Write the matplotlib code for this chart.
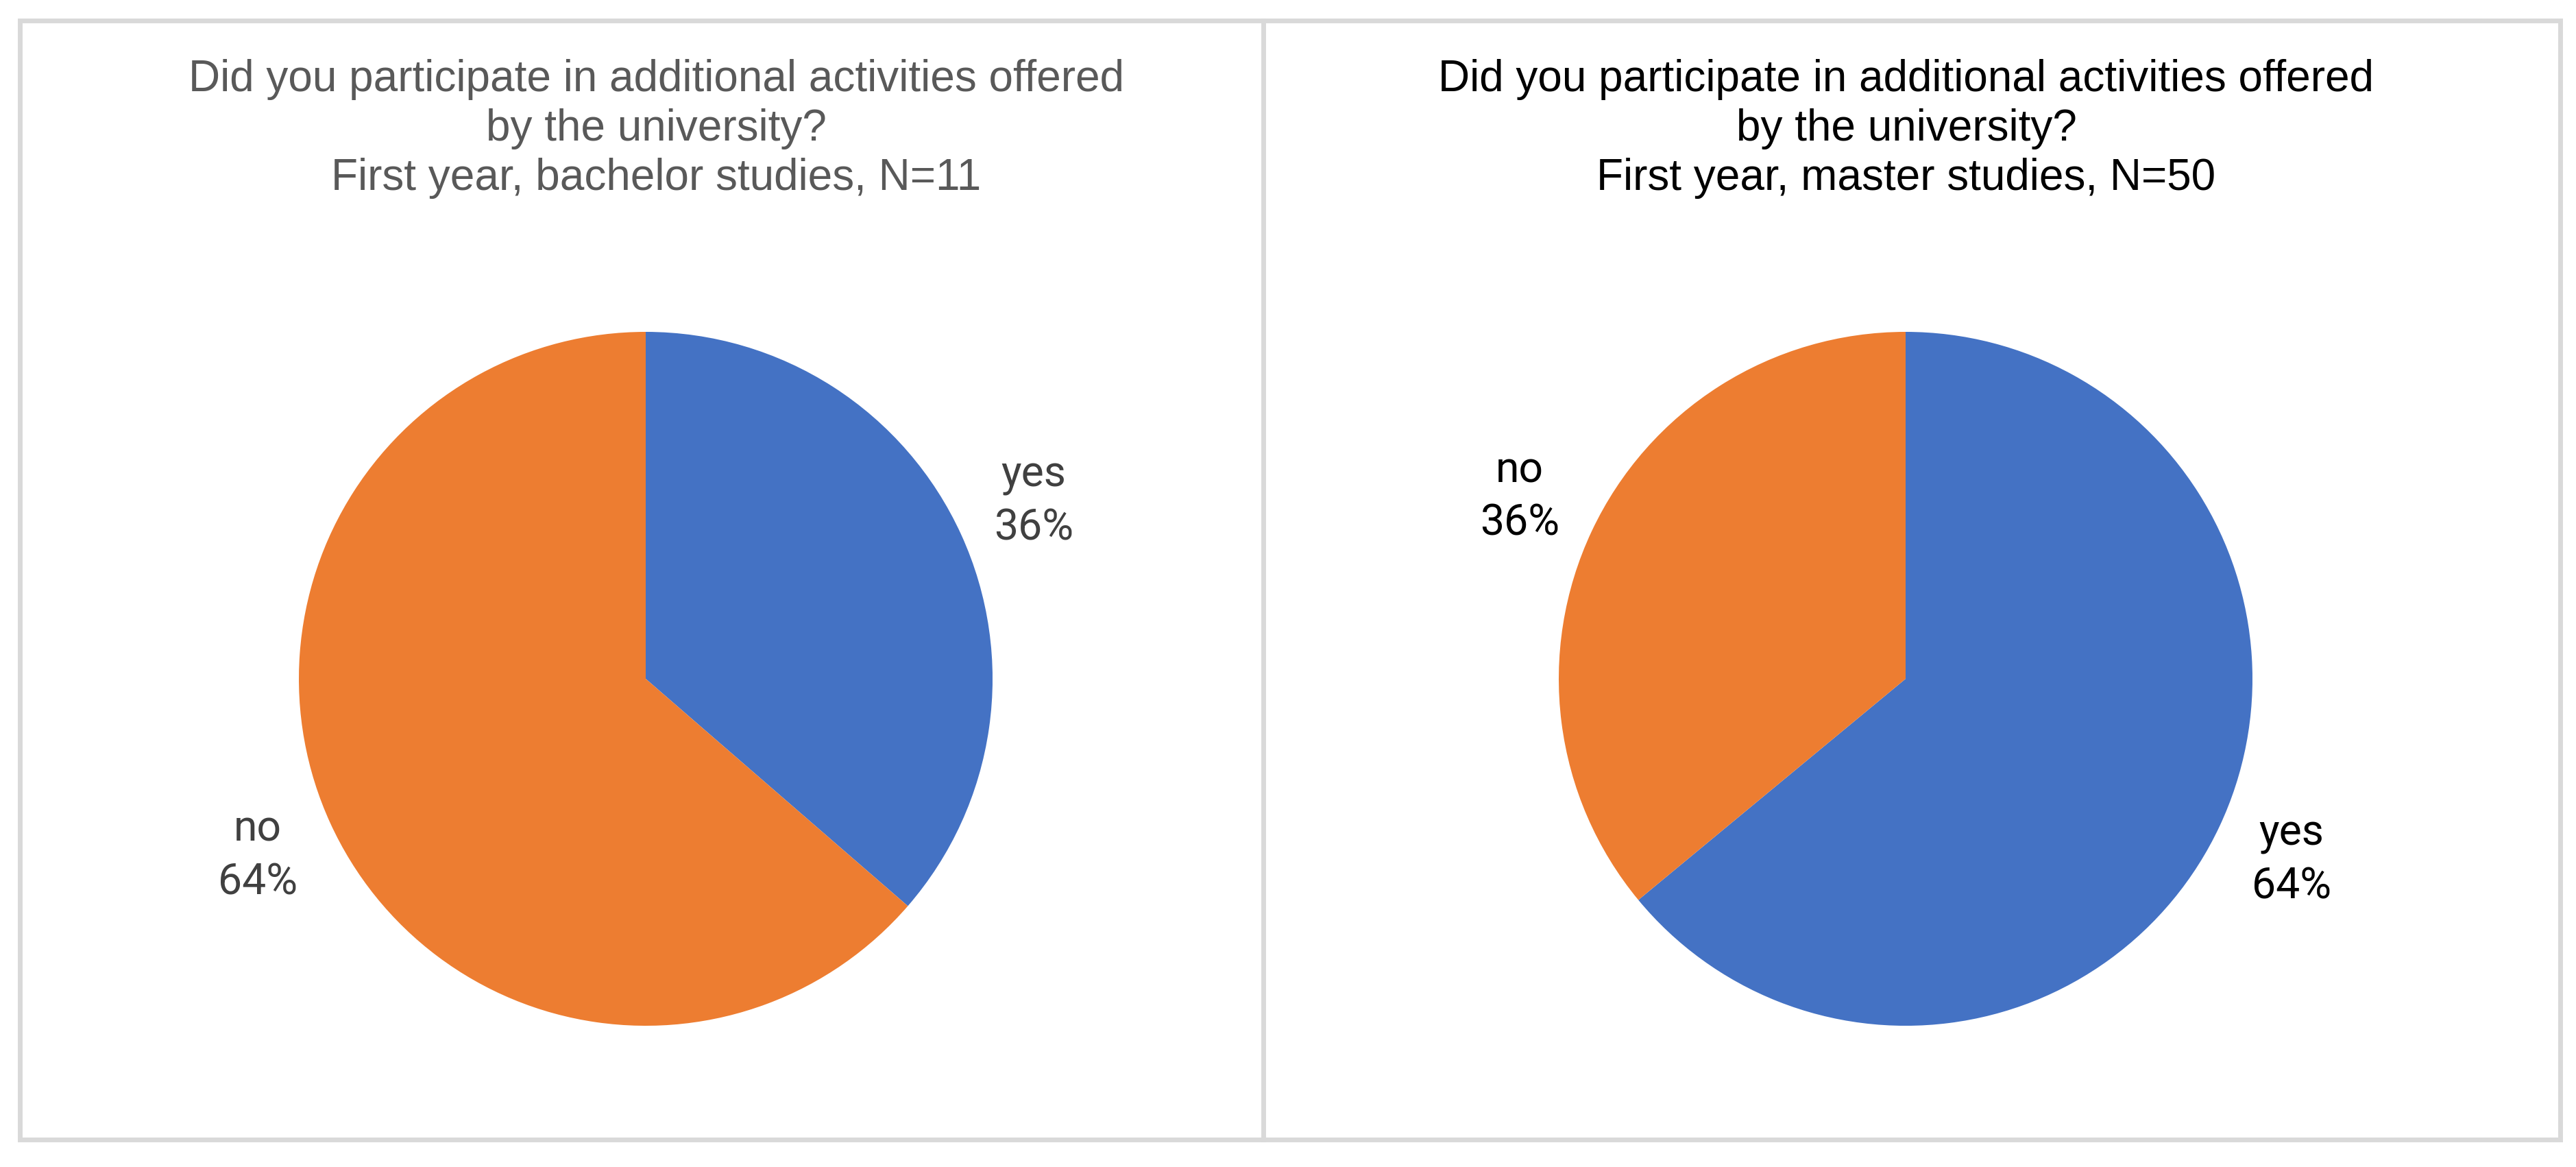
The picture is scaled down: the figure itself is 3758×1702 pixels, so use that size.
import matplotlib.pyplot as plt
from matplotlib.patches import Rectangle
from matplotlib.lines import Line2D

# data
categories_bachelor = ['yes', 'no']
counts_bachelor = [4, 7]  # N=11
categories_master = ['yes', 'no']
counts_master = [32, 18]  # N=50
colors = {'yes': '#4472C4', 'no': '#ED7D31'}

titles = [
    'Did you participate in additional activities offered\nby the university?\nFirst year, bachelor studies, N=11',
    'Did you participate in additional activities offered\nby the university?\nFirst year, master studies, N=50',
]
title_colors = ['#595959', '#000000']
label_colors = ['#404040', '#000000']

W, H = 3758, 1702
fig = plt.figure(figsize=(W / 100, H / 100), dpi=100)
fig.patch.set_facecolor('white')

# frames
border = '#d9d9d9'
fig.patches.append(Rectangle((29 / W, 1 - 1662 / H), (3735 - 29) / W, (1662 - 30) / H,
                             transform=fig.transFigure, fill=False, edgecolor=border, lw=5))
fig.lines.append(Line2D([1843 / W, 1843 / W], [1 - 1662 / H, 1 - 30 / H],
                        transform=fig.transFigure, color=border, lw=5))

R = 506  # pie radius in px
L = 1.3
size = 2 * L * R
centers = [(942, 990), (2780, 990)]
title_x = [957, 2781]

datasets = [(categories_bachelor, counts_bachelor), (categories_master, counts_master)]

for i, (cats, vals) in enumerate(datasets):
    cx, cy = centers[i]
    ax = fig.add_axes([(cx - size / 2) / W, (H - cy - size / 2) / H, size / W, size / H])
    wedges, _, autotexts = ax.pie(vals, colors=[colors[c] for c in cats], startangle=90,
                                  counterclock=False, autopct='%.0f%%', pctdistance=1.23,
                                  wedgeprops=dict(linewidth=0))
    for t, c in zip(autotexts, cats):
        t.set_text(f'{c}\n{t.get_text()}')
        t.set_fontsize(45)
        t.set_family('Roboto')
        t.set_color(label_colors[i])
        t.set_linespacing(1.38)
    ax.set_xlim(-L, L)
    ax.set_ylim(-L, L)
    ax.set_aspect('equal')

    fig.text(title_x[i] / W, 1 - 188 / H, titles[i], ha='center', va='center',
             fontsize=46, color=title_colors[i], family='Liberation Sans', linespacing=1.25)

fig.savefig('out.png', dpi=100)
